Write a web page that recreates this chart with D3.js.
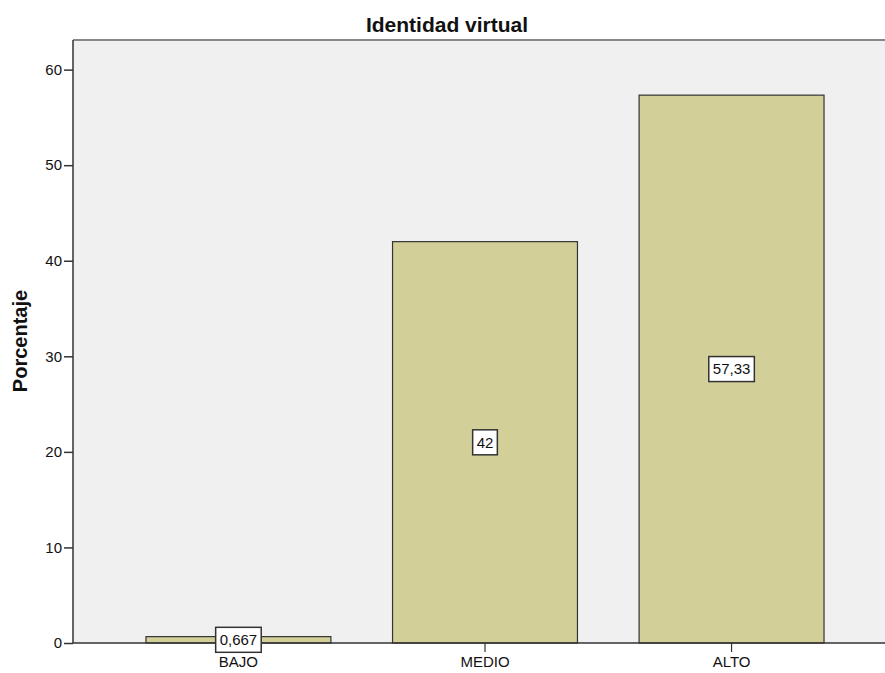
<!DOCTYPE html>
<html>
  <head>
    <title>Identidad virtual</title>
    <style>
body {
  margin: 0px;
  overflow: hidden;
  background: #fff;
}
text {
  font-family: "Liberation Sans", Arial, sans-serif;
  fill: #111;
}
.tick text {
  font-size: 15px;
}
.title {
  font-size: 21px;
  font-weight: bold;
}
.axis-label {
  font-size: 20px;
  font-weight: bold;
}
.val-label {
  font-size: 15px;
}
    </style>
    <script src="https://d3js.org/d3.v7.min.js"></script>
  </head>
  <body>
    <svg width="885" height="673"></svg>
    <script>

// data
const categories = ['BAJO', 'MEDIO', 'ALTO'];
const percents = [0.667, 42, 57.33];
const valueLabels = ['0,667', '42', '57,33'];
const yTicks = [0, 10, 20, 30, 40, 50, 60];

const svg = d3.select('svg');
const width = +svg.attr('width');
const height = +svg.attr('height');

const margin = { top: 40, right: -12, bottom: 30, left: 73 };
const innerWidth = width - margin.left - margin.right;
const innerHeight = height - margin.top - margin.bottom;

const data = categories.map((c, i) => ({ cat: c, value: percents[i], label: valueLabels[i] }));

const xScale = d3.scaleBand()
  .domain(categories)
  .range([0, innerWidth])
  .paddingInner(0.25)
  .paddingOuter(0.296);

const yScale = d3.scaleLinear()
  .domain([0, 63.1])
  .range([innerHeight, 0]);

const g = svg.append('g')
  .attr('transform', `translate(${margin.left},${margin.top})`);

// plot background
g.append('rect')
  .attr('x', 0)
  .attr('y', 0)
  .attr('width', width - margin.left)
  .attr('height', innerHeight)
  .attr('fill', '#f0f0f0');

// top frame line
g.append('line')
  .attr('x1', 0)
  .attr('x2', width - margin.left)
  .attr('y1', 0)
  .attr('y2', 0)
  .attr('stroke', '#888')
  .attr('stroke-width', 2);

// bars
g.selectAll('rect.bar').data(data)
  .enter().append('rect')
    .attr('class', 'bar')
    .attr('x', d => xScale(d.cat))
    .attr('y', d => yScale(d.value))
    .attr('width', xScale.bandwidth())
    .attr('height', d => innerHeight - yScale(d.value))
    .attr('fill', '#d3cf99')
    .attr('stroke', '#333')
    .attr('stroke-width', 1.2);

// axes
const yAxis = d3.axisLeft(yScale)
  .tickValues(yTicks)
  .tickSize(9)
  .tickPadding(2);

const yAxisG = g.append('g').call(yAxis);
yAxisG.select('.domain').attr('d', `M0,0V${innerHeight}`).attr('stroke', '#333').attr('stroke-width', 1.5);
yAxisG.selectAll('.tick line').attr('stroke', '#333').attr('stroke-width', 1.5);
yAxisG.selectAll('.tick text').attr('fill', '#222');

const xAxis = d3.axisBottom(xScale)
  .tickSize(9)
  .tickPadding(4);

const xAxisG = g.append('g').call(xAxis)
  .attr('transform', `translate(0,${innerHeight})`);
xAxisG.select('.domain').attr('d', `M0,0H${width - margin.left}`).attr('stroke', '#333').attr('stroke-width', 1.5);
xAxisG.selectAll('.tick line').attr('stroke', '#333').attr('stroke-width', 1.2);
xAxisG.selectAll('.tick text').attr('fill', '#222');

// value label boxes at mid bar height
const labelG = g.selectAll('g.val').data(data)
  .enter().append('g')
    .attr('class', 'val')
    .attr('transform', d => `translate(${xScale(d.cat) + xScale.bandwidth() / 2},${yScale(d.value / 2)})`);

labelG.append('text')
  .attr('class', 'val-label')
  .attr('text-anchor', 'middle')
  .attr('dy', '0.36em')
  .text(d => d.label);

labelG.each(function() {
  const sel = d3.select(this);
  const bb = sel.select('text').node().getBBox();
  sel.insert('rect', 'text')
    .attr('x', bb.x - 4)
    .attr('y', -12.5)
    .attr('width', bb.width + 8)
    .attr('height', 25)
    .attr('fill', '#fff')
    .attr('stroke', '#333')
    .attr('stroke-width', 1.5);
});

// title and y label
svg.append('text')
  .attr('class', 'title')
  .attr('x', 447)
  .attr('y', 32)
  .attr('text-anchor', 'middle')
  .text('Identidad virtual');

svg.append('text')
  .attr('class', 'axis-label')
  .attr('transform', `translate(27,341) rotate(-90)`)
  .attr('text-anchor', 'middle')
  .text('Porcentaje');

    </script>
  </body>
</html>
